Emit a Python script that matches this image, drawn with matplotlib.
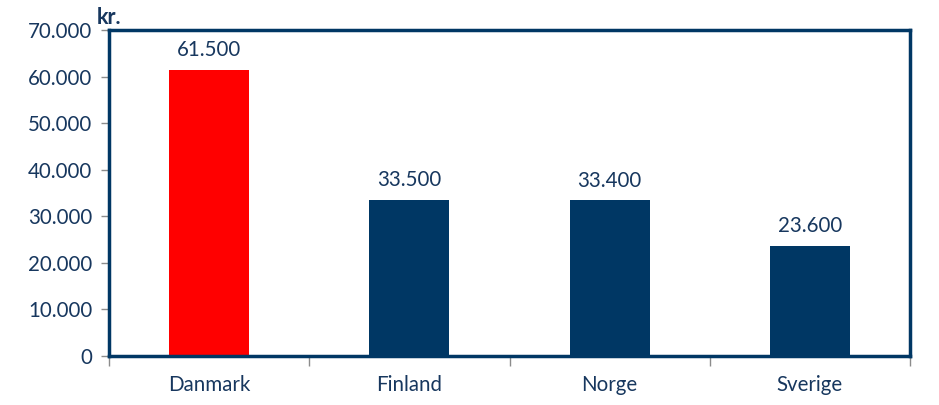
import matplotlib
matplotlib.use("Agg")
import matplotlib.pyplot as plt
from matplotlib.ticker import FixedLocator

categories = ["Danmark", "Finland", "Norge", "Sverige"]
values = [61500, 33500, 33400, 23600]
value_labels = ["61.500", "33.500", "33.400", "23.600"]
bar_colors = ["#FF0000", "#003764", "#003764", "#003764"]
yticks = [0, 10000, 20000, 30000, 40000, 50000, 60000, 70000]
ytick_labels = ["0", "10.000", "20.000", "30.000", "40.000", "50.000", "60.000", "70.000"]
unit_label = "kr."

navy = "#003764"
text_col = "#17375E"
grey = "#8C8C8C"

plt.rcParams['font.family'] = ['Lato', 'DejaVu Sans']

fig = plt.figure(figsize=(9.39, 4.05), dpi=100)
ax = fig.add_axes([109/939, 1 - 356/405, (910-109)/939, (356-30)/405])

x = list(range(len(categories)))
bars = ax.bar(x, values, width=0.4, color=bar_colors, zorder=2)
for xi, v, lab in zip(x, values, value_labels):
    ax.annotate(lab, (xi, v), xytext=(0, 7), textcoords="offset points",
                ha="center", va="bottom", fontsize=14.8, color=text_col)

ax.set_xlim(-0.5, len(categories) - 0.5)
ax.set_ylim(0, 70000)
ax.set_yticks(yticks)
ax.set_yticklabels(ytick_labels, fontsize=14.8, color=text_col)
ax.set_xticks(x)
ax.set_xticklabels(categories, fontsize=14.8, color=text_col)
ax.xaxis.set_minor_locator(FixedLocator([i - 0.5 for i in range(len(categories) + 1)]))
ax.tick_params(axis="x", which="major", length=0, pad=14)
ax.tick_params(axis="x", which="minor", length=7, color=grey, width=1)
ax.tick_params(axis="y", length=6, color=grey, width=1, pad=6)

for s in ax.spines.values():
    s.set_color(navy)
    s.set_linewidth(2.5)

fig.text(97/939, 1 - 17/405, unit_label, fontsize=15.5, fontweight="bold",
         color=text_col, ha="left", va="center")

fig.savefig("out.png", dpi=100)
